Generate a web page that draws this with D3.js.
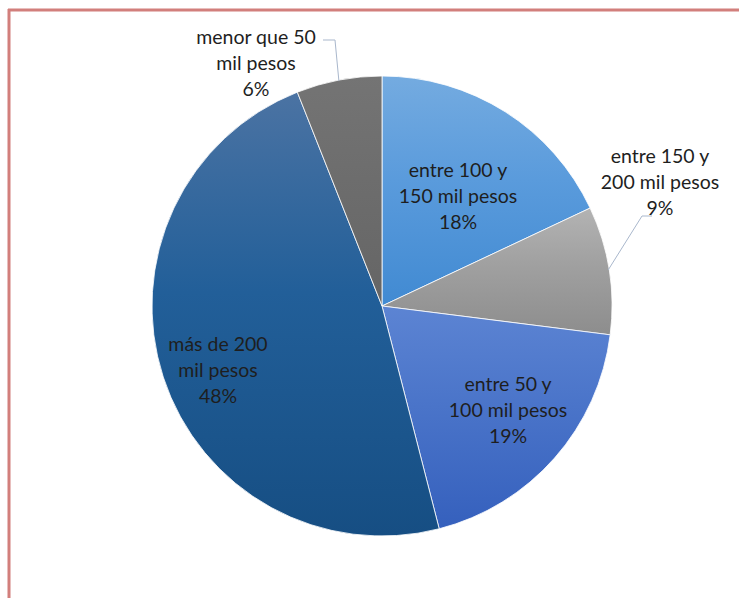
<!DOCTYPE html>
<html>
<head>
<meta charset="utf-8">
<script src="https://cdn.jsdelivr.net/npm/d3@7"></script>
<style>
  body { margin: 0; background: #fff; }
  svg { display: block; }
</style>
</head>
<body>
<div id="chart"></div>
<script>
// Data (clockwise from 12 o'clock)
const categories = ['entre 100 y 150 mil pesos', 'entre 150 y 200 mil pesos', 'entre 50 y 100 mil pesos', 'más de 200 mil pesos', 'menor que 50 mil pesos'];
const values = [18, 9, 19, 48, 6];
const labelLines = [
  ['entre 100 y', '150 mil pesos', '18%'],
  ['entre 150 y', '200 mil pesos', '9%'],
  ['entre 50 y', '100 mil pesos', '19%'],
  ['más de 200', 'mil pesos', '48%'],
  ['menor que 50', 'mil pesos', '6%']
];
const gradTop = ['#74abe0', '#b3b3b3', '#5c84d3', '#4b73a3', '#747474'];
const gradMid = ['#5a9bdc', '#a0a0a0', '#4a74c9', '#225f99', '#6d6d6d'];
const gradBottom = ['#418ad2', '#8d8d8d', '#3560bd', '#164e83', '#656565'];

const svgWidth = 739, svgHeight = 598;
const cx = 382, cy = 306, radius = 230;

// label centre offsets from the pie centre
const labelOffset = [[76, -110], [278, -124], [126, 104], [-164, 64], [-126, -243]];

const svg = d3.select('#chart').append('svg')
  .attr('width', svgWidth)
  .attr('height', svgHeight);

// frame (only top and left edges are visible)
svg.append('line').attr('x1', 8).attr('y1', 10).attr('x2', 739).attr('y2', 10)
  .attr('stroke', '#d27f7c').attr('stroke-width', 3);
svg.append('line').attr('x1', 9).attr('y1', 9).attr('x2', 9).attr('y2', 598)
  .attr('stroke', '#d27f7c').attr('stroke-width', 3);

const defs = svg.append('defs');
values.forEach((v, i) => {
  const g = defs.append('linearGradient')
    .attr('id', 'grad' + i)
    .attr('x1', 0).attr('y1', 0).attr('x2', 0).attr('y2', 1);
  g.append('stop').attr('offset', '0%').attr('stop-color', gradTop[i]);
  g.append('stop').attr('offset', '45%').attr('stop-color', gradMid[i]);
  g.append('stop').attr('offset', '100%').attr('stop-color', gradBottom[i]);
});

const pie = d3.pie().sort(null).value(d => d);
const arcs = pie(values);
const arc = d3.arc().innerRadius(0).outerRadius(radius);

const chart = svg.append('g').attr('transform', `translate(${cx}, ${cy})`);

chart.selectAll('path.slice')
  .data(arcs)
  .enter()
  .append('path')
  .attr('class', 'slice')
  .attr('d', arc)
  .attr('fill', (d, i) => `url(#grad${i})`)
  .attr('stroke', '#ffffff')
  .attr('stroke-width', 0.8);

// leader lines for the outside labels
const leader = d3.line();
const edge = (d, r) => {
  const a = d.startAngle + (d.endAngle - d.startAngle) / 2;
  return [Math.sin(a) * r, -Math.cos(a) * r];
};
// 9% label
{
  const p = edge(arcs[1], radius);
  chart.append('path')
    .attr('d', leader([[p[0] - 1, p[1]], [260, -90], [270, -90]]))
    .attr('fill', 'none').attr('stroke', '#a9b7cc').attr('stroke-width', 1);
}
// 6% label
{
  const p = edge(arcs[4], radius);
  chart.append('path')
    .attr('d', leader([[p[0], p[1] + 1], [-47, -266], [-59, -266]]))
    .attr('fill', 'none').attr('stroke', '#a9b7cc').attr('stroke-width', 1);
}

// labels
const lineH = 26;
labelLines.forEach((lines, i) => {
  const t = chart.append('text')
    .attr('text-anchor', 'middle')
    .attr('font-family', 'Lato, "Open Sans", sans-serif')
    .attr('font-size', '19.5px')
    .attr('fill', '#1e1e1e');
  lines.forEach((s, j) => {
    t.append('tspan')
      .attr('x', labelOffset[i][0])
      .attr('y', labelOffset[i][1] + (j - 1) * lineH)
      .attr('dy', '0.35em')
      .text(s);
  });
});
</script>
</body>
</html>
